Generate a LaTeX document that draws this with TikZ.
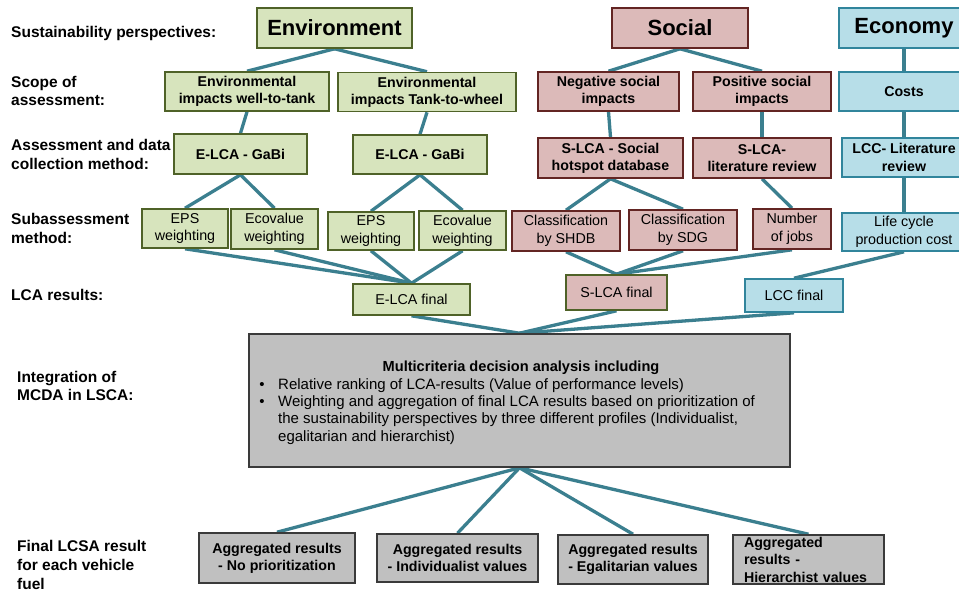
\documentclass[tikz,border=0pt]{standalone}
\usepackage{fontspec}
\setmainfont{Liberation Sans}
\usetikzlibrary{backgrounds}

\definecolor{envfill}{HTML}{D7E4BD}
\definecolor{envdraw}{HTML}{4F6228}
\definecolor{socfill}{HTML}{DCBAB9}
\definecolor{socdraw}{HTML}{632523}
\definecolor{ecofill}{HTML}{B7DEE8}
\definecolor{ecodraw}{HTML}{31859C}
\definecolor{mcdafill}{HTML}{C0C0C0}
\definecolor{mcdadraw}{HTML}{3A3A3A}
\definecolor{linkcol}{HTML}{3B7F8F}

\tikzset{
  box/.style={rectangle, line width=1.6pt, inner sep=0pt, align=center},
  envbox/.style={box, fill=envfill, draw=envdraw},
  socbox/.style={box, fill=socfill, draw=socdraw},
  ecobox/.style={box, fill=ecofill, draw=ecodraw},
  graybox/.style={box, fill=mcdafill, draw=mcdadraw},
  link/.style={draw=linkcol, line width=3.3pt},
  rowlabel/.style={anchor=west, align=left, inner sep=0pt,
    font=\fontsize{15.5}{18.8}\selectfont\bfseries},
  bigtext/.style={font=\fontsize{22}{26}\selectfont\bfseries},
  boldtext/.style={font=\fontsize{14.2}{17.2}\selectfont\bfseries},
  plaintext/.style={font=\fontsize{14.3}{17.8}\selectfont},
  mcdatext/.style={inner sep=0pt, font=\fontsize{15}{17.2}\selectfont},
  wh/.style 2 args={minimum width=#1pt, minimum height=#2pt},
}

\begin{document}
\begin{tikzpicture}[x=1pt, y=-1pt]
\useasboundingbox (0,0) rectangle (959,592);
\clip (0,0) rectangle (959,592);

% row labels
\node[rowlabel] (lab1) at (11,33) {Sustainability perspectives:};
\node[rowlabel] (lab2) at (11,91) {Scope of\\assessment:};
\node[rowlabel] (lab3) at (11,154.5) {Assessment and data\\collection method:};
\node[rowlabel] (lab4) at (11,228.5) {Subassessment\\method:};
\node[rowlabel] (lab5) at (11,295) {LCA results:};
\node[rowlabel] (lab6) at (17,386) {Integration of\\MCDA in LSCA:};
\node[rowlabel] (lab7) at (17,565) {Final LCSA result\\for each vehicle\\fuel};

% sustainability perspectives
\node[envbox, wh={155}{40}, bigtext] (env) at (334.5,28) {Environment};
\node[socbox, wh={136}{40}, bigtext] (soc) at (680,28) {Social};
\node[ecobox, wh={130}{40}, bigtext] (eco) at (904,28) {Economy};

% scope of assessment
\node[envbox, wh={164}{39}, boldtext] (wtt) at (247,91.5) {Environmental\\impacts well-to-tank};
\node[envbox, wh={178}{39}, boldtext] (ttw) at (427,92) {Environmental\\impacts Tank-to-wheel};
\node[socbox, wh={141}{39}, boldtext] (neg) at (608.5,91.5) {Negative social\\impacts};
\node[socbox, wh={138}{39}, boldtext] (pos) at (762,91.5) {Positive social\\impacts};
\node[ecobox, wh={130}{39}, boldtext] (costs) at (904,91.5) {Costs};

% assessment and data collection method
\node[envbox, wh={133}{40}, boldtext] (gabi1) at (240.5,154) {E-LCA - GaBi};
\node[envbox, wh={134}{39}, boldtext] (gabi2) at (420,154.5) {E-LCA - GaBi};
\node[socbox, wh={145}{40}, boldtext] (shdb) at (610.5,158) {S-LCA - Social\\hotspot database};
\node[socbox, wh={138}{40}, boldtext] (slit) at (762,158) {S-LCA-\\literature review};
\node[ecobox, wh={124}{39}, boldtext] (lcclit) at (904,157.5) {LCC- Literature\\review};

% subassessment method
\node[envbox, wh={86}{39}, plaintext] (eps1) at (185,228.5) {EPS\\weighting};
\node[envbox, wh={87}{40}, plaintext] (eco1) at (274.5,229) {Ecovalue\\weighting};
\node[envbox, wh={86}{38}, plaintext] (eps2) at (371,231) {EPS\\weighting};
\node[envbox, wh={87}{39}, plaintext] (eco2) at (462.5,230.5) {Ecovalue\\weighting};
\node[socbox, wh={108}{40}, plaintext] (cshdb) at (566,231) {Classification\\by SHDB};
\node[socbox, wh={108}{40}, plaintext] (csdg) at (683,230) {Classification\\by SDG};
\node[socbox, wh={78}{40}, plaintext] (jobs) at (792,229) {Number\\of jobs};
\node[ecobox, wh={124}{38}, plaintext] (lcp) at (904,232) {Life cycle\\production cost};

% LCA results
\node[envbox, wh={117}{31}, plaintext] (elcaf) at (411.5,299.5) {E-LCA final};
\node[box, fill=socfill, draw=envdraw, wh={101}{35}, plaintext] (slcaf) at (616.5,292.5) {S-LCA final};
\node[ecobox, wh={98}{33}, plaintext] (lccf) at (794,295.5) {LCC final};

% MCDA
\node[graybox, wh={541}{133}] (mcda) at (519.5,400.5) {};
\node[mcdatext, font=\fontsize{14.6}{17}\selectfont\bfseries] (mtitle) at (521,368) {Multicriteria decision analysis including};
\node[mcdatext] (dot1) at (262,386) {•};
\node[mcdatext, anchor=west] (item1) at (278,386) {Relative ranking of LCA-results (Value of performance levels)};
\node[mcdatext] (dot2) at (262,403) {•};
\node[mcdatext, anchor=west, align=left] (item2) at (278,420) {Weighting and aggregation of final LCA results based on prioritization of\\the sustainability perspectives by three different profiles (Individualist,\\egalitarian and hierarchist)};

% final LCSA results
\node[graybox, wh={156}{50}, boldtext] (agg1) at (277,558) {Aggregated results\\- No prioritization};
\node[graybox, wh={161}{48}, boldtext] (agg2) at (457.5,558) {Aggregated results\\- Individualist values};
\node[graybox, wh={150}{49}, boldtext] (agg3) at (633,559.5) {Aggregated results\\- Egalitarian values};
\node[graybox, wh={151}{49}, boldtext, font=\fontsize{14.2}{17.5}\selectfont\bfseries, text width=129pt, align=left] (agg4) at (808.5,559.5) {Aggregated\\results -\\Hierarchist values};

% connectors
\begin{scope}[on background layer]
\fill[white] (0,0) rectangle (959,592);
\draw[link] (env.south) -- (wtt.north);
\draw[link] (env.south) -- (ttw.north);
\draw[link] (wtt.south) -- (gabi1.north);
\draw[link] (ttw.south) -- (gabi2.north);
\draw[link] (gabi1.south) -- (eps1.north);
\draw[link] (gabi1.south) -- (eco1.north);
\draw[link] (gabi2.south) -- (eps2.north);
\draw[link] (gabi2.south) -- (eco2.north);
\draw[link] (eps1.south) -- (elcaf.north);
\draw[link] (eco1.south) -- (elcaf.north);
\draw[link] (eps2.south) -- (elcaf.north);
\draw[link] (eco2.south) -- (elcaf.north);
\draw[link] (soc.south) -- (neg.north);
\draw[link] (soc.south) -- (pos.north);
\draw[link] (neg.south) -- (shdb.north);
\draw[link] (pos.south) -- (slit.north);
\draw[link] (shdb.south) -- (cshdb.north);
\draw[link] (shdb.south) -- (csdg.north);
\draw[link] (slit.south) -- (jobs.north);
\draw[link] (cshdb.south) -- (slcaf.north);
\draw[link] (csdg.south) -- (slcaf.north);
\draw[link] (jobs.south) -- (slcaf.north);
\draw[link] (eco.south) -- (costs.north);
\draw[link] (costs.south) -- (lcclit.north);
\draw[link] (lcclit.south) -- (lcp.north);
\draw[link] (lcp.south) -- (lccf.north);
\draw[link] (elcaf.south) -- (mcda.north);
\draw[link] (slcaf.south) -- (mcda.north);
\draw[link] (lccf.south) -- (mcda.north);
\draw[link] (mcda.south) -- (agg1.north);
\draw[link] (mcda.south) -- (agg2.north);
\draw[link] (mcda.south) -- (agg3.north);
\draw[link] (mcda.south) -- (agg4.north);
\end{scope}
\end{tikzpicture}
\end{document}
